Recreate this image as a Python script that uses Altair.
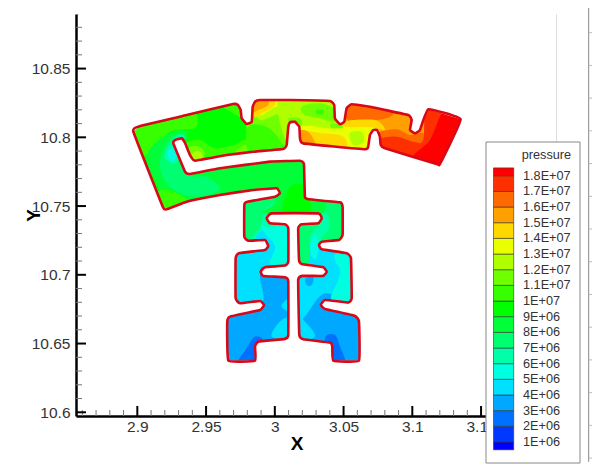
import altair as alt
import pandas as pd

X_DOMAIN = [2.8554, 3.2045]
Y_DOMAIN = [10.5973, 10.8897]

OUTLINE_X = [2.8971,2.9020,2.9359,2.9696,2.9732,2.9752,2.9759,2.9795,2.9832,2.9839,2.9856,2.9892,3.0110,3.0401,3.0432,3.0437,3.0474,3.0505,3.0522,3.0559,3.0692,3.0970,3.0995,3.0983,3.1019,3.1055,3.1116,3.1351,3.1201,3.1177,3.0801,3.0770,3.0764,3.0745,3.0716,3.0692,3.0679,3.0655,3.0207,3.0183,3.0178,3.0146,3.0110,3.0098,3.0086,3.0061,2.9843,2.9650,2.9419,2.9383,2.9347,2.9323,2.9274,2.9262,2.9347,2.9383,2.9601,2.9965,3.0183,3.0212,3.0219,3.0248,3.0474,3.0493,3.0493,3.0466,3.0341,3.0321,3.0341,3.0522,3.0554,3.0559,3.0534,3.0365,3.0335,3.0365,3.0583,3.0612,3.0612,3.0425,3.0418,3.0401,3.0207,3.0178,3.0170,3.0200,3.0352,3.0377,3.0352,3.0195,3.0176,3.0170,3.0195,3.0316,3.0341,3.0316,2.9977,2.9941,2.9965,3.0074,3.0098,3.0098,3.0074,2.9928,2.9897,2.9916,3.0074,3.0098,3.0098,3.0074,2.9880,2.9856,2.9856,2.9662,2.9654,2.9674,2.9892,2.9921,2.9892,2.9747,2.9715,2.9715,2.9739,2.9928,2.9952,2.9928,2.9807,2.9778,2.9778,2.9795,3.0001,3.0037,3.0013,2.9843,2.9601,2.9359,2.9214,2.9185]
OUTLINE_Y = [10.8041,10.8082,10.8162,10.8242,10.8235,10.8198,10.8138,10.8097,10.8113,10.8222,10.8259,10.8271,10.8271,10.8264,10.8235,10.8138,10.8095,10.8113,10.8211,10.8240,10.8222,10.8162,10.8126,10.8053,10.8029,10.8053,10.8204,10.8131,10.7806,10.7806,10.7920,10.7944,10.8004,10.8053,10.8053,10.8017,10.7932,10.7913,10.7956,10.7993,10.8077,10.8113,10.8109,10.8077,10.7944,10.7915,10.7895,10.7871,10.7830,10.7871,10.7959,10.7993,10.7980,10.7956,10.7750,10.7733,10.7775,10.7823,10.7830,10.7806,10.7566,10.7549,10.7527,10.7495,10.7290,10.7253,10.7241,10.7217,10.7186,10.7157,10.7120,10.6830,10.6798,10.6817,10.6781,10.6752,10.6701,10.6659,10.6376,10.6376,10.6478,10.6507,10.6531,10.6563,10.6963,10.6992,10.6992,10.7023,10.7055,10.7079,10.7108,10.7338,10.7368,10.7375,10.7411,10.7447,10.7447,10.7411,10.7375,10.7368,10.7338,10.7096,10.7067,10.7055,10.7023,10.6992,10.6982,10.6950,10.6563,10.6534,10.6514,10.6478,10.6376,10.6376,10.6659,10.6696,10.6744,10.6781,10.6810,10.6793,10.6830,10.7120,10.7157,10.7181,10.7210,10.7253,10.7248,10.7277,10.7508,10.7530,10.7568,10.7593,10.7629,10.7617,10.7581,10.7532,10.7477,10.7495]

# Pressure regions, painted from back to front: (pressure, xs, ys)
REGIONS = [
 (9.5e6,[2.885,3.03,3.03,2.885],[10.85,10.85,10.74,10.74]),
 (10.5e6,[2.8922,2.9359,2.9431,2.9237,2.9116,2.9019,2.8935],[10.8077,10.8223,10.8077,10.8041,10.7908,10.7859,10.7981]),
 (8.5e6,[2.9068,2.9189,2.9359,2.9395,3.0207,3.0231,3.0037,2.9601,2.9237,2.9141],[10.7859,10.8005,10.8041,10.7823,10.7847,10.7569,10.7641,10.7569,10.7520,10.7666]),
 (7.5e6,[2.9165,2.9213,2.9334,2.9359,2.9504,2.9601,2.9407,2.9237],[10.7787,10.7956,10.8017,10.7738,10.7714,10.7617,10.7569,10.7641]),
 (6.5e6,[2.9201,2.9274,2.9346,2.9310,2.9274,2.9213],[10.7884,10.8005,10.8005,10.7872,10.7811,10.7835]),
 (5.5e6,[2.9220,2.9257,2.9291,2.9250],[10.7884,10.7932,10.7872,10.7823]),
 (10.5e6,[2.9346,2.9456,2.9565,2.9698,2.9783,2.9867,2.9940,2.9601,2.9419],[10.7944,10.7981,10.7920,10.7944,10.7981,10.7932,10.7872,10.7835,10.7799]),
 (11.5e6,[2.9371,2.9451,2.9492,2.9419],[10.7920,10.7932,10.7872,10.7816]),
 (11.5e6,[2.9710,2.9783,2.9843,2.9795],[10.7884,10.7944,10.7896,10.7872]),
 (12.5e6,[2.9395,2.9443,2.9475,2.9419],[10.7872,10.7903,10.7859,10.7823]),
 (10.5e6,[2.9104,2.9213,2.9371,2.9189],[10.7569,10.7617,10.7532,10.7447]),
 (10.5e6,[2.9601,2.9771,2.9771,2.9674],[10.8247,10.8271,10.8150,10.8187]),
 # upper arc, middle
 (11.5e6,[2.9819,3.0255,3.0255,2.9843,2.9795],[10.8320,10.8320,10.7884,10.7884,10.8053]),
 (10.5e6,[2.9807,2.9940,3.0037,3.0073,2.9819],[10.8077,10.8077,10.7981,10.7884,10.7884]),
 (12.5e6,[2.9843,3.0013,3.0279,3.0279,3.0158,3.0037,2.9892],[10.8247,10.8296,10.8296,10.8126,10.8150,10.8174,10.8126]),
 (13.5e6,[2.9843,3.0013,3.0231,3.0182,3.0013,2.9892],[10.8271,10.8296,10.8283,10.8211,10.8223,10.8162]),
 (14.5e6,[2.9838,2.9964,3.0001,2.9904,2.9843],[10.8271,10.8283,10.8235,10.8174,10.8150]),
 (15.5e6,[2.9838,2.9940,2.9952,2.9880,2.9838],[10.8271,10.8283,10.8235,10.8199,10.8186]),
 (12.5e6,[3.0037,3.0449,3.0498,3.0716,3.0704,3.0158],[10.8320,10.8320,10.8102,10.8102,10.7884,10.7884]),
 (11.5e6,[3.0195,3.0328,3.0437,3.0437,3.0328,3.0219],[10.8223,10.8247,10.8199,10.8114,10.8138,10.8162]),
 (10.5e6,[3.0304,3.0352,3.0352,3.0304],[10.8199,10.8199,10.8170,10.8170]),
 (11.5e6,[3.0098,3.0183,3.0195,3.0134],[10.8138,10.8138,10.8090,10.8077]),
 (11.5e6,[3.0413,3.0510,3.0473,3.0413],[10.8102,10.8090,10.8053,10.8065]),
 (15.5e6,[3.0498,3.1007,3.1079,3.0788,3.0740,3.0510],[10.8271,10.8223,10.8017,10.8029,10.8065,10.8102]),
 (16.5e6,[3.0510,3.0837,3.0813,3.0534],[10.8259,10.8211,10.8138,10.8126]),
 (13.5e6,[3.0183,3.0401,3.0522,3.0522,3.0183],[10.8077,10.8065,10.8053,10.7920,10.7944]),
 (13.5e6,[3.0510,3.0716,3.0716,3.0510],[10.8102,10.8102,10.7896,10.7908]),
 (14.5e6,[3.0183,3.0352,3.0498,3.0498,3.0183],[10.8041,10.8029,10.8005,10.7913,10.7932]),
 (15.5e6,[3.0171,3.0243,3.0292,3.0171],[10.8041,10.8041,10.7944,10.7944]),
 (14.5e6,[3.0510,3.0728,3.0801,3.0704,3.0510],[10.8114,10.8126,10.8053,10.8073,10.8077]),
 (12.5e6,[3.0546,3.0631,3.0648,3.0570],[10.8029,10.8041,10.7968,10.7944]),
 # right end
 (16.5e6,[3.0745,3.0885,3.0982,3.1079,3.1079,3.0934,3.0752],[10.8029,10.8058,10.8017,10.8029,10.7932,10.7968,10.7956]),
 (17.5e6,[3.0752,3.0885,3.1007,3.1079,3.1103,3.1249,3.1031,3.0752],[10.7981,10.8005,10.7968,10.7981,10.8211,10.8174,10.7823,10.7896]),
 (18.5e6,[3.1237,3.1394,3.1225,3.1007,3.1128],[10.8199,10.8150,10.7762,10.7847,10.7981]),
 # lower lobes
 (3.5e6,[2.95,3.08,3.08,2.95],[10.73,10.73,10.62,10.62]),
 (6.5e6,[2.9735,3.0534,3.0534,3.0316,2.9735],[10.7569,10.7569,10.7205,10.7193,10.7205]),
 (6.5e6,[3.0171,3.0340,3.0340,3.0171],[10.7375,10.7375,10.7072,10.7072]),
 (6.5e6,[3.0183,3.0255,3.0352,3.0255],[10.7593,10.7569,10.7435,10.7447]),
 (4.5e6,[2.9662,2.9892,2.9892,2.9904,2.9662],[10.7181,10.7181,10.6987,10.6793,10.6781]),
 (4.5e6,[2.9880,3.0110,3.0110,2.9880],[10.7302,10.7302,10.7072,10.7072]),
 (4.5e6,[3.0171,3.0583,3.0583,3.0365,3.0219,3.0171],[10.7181,10.7181,10.6793,10.6866,10.6696,10.6684]),
 (5.5e6,[3.0449,3.0583,3.0583,3.0413,3.0461,3.0474,3.0437],[10.7157,10.7181,10.6793,10.6817,10.6963,10.7036,10.7108]),
 (3.5e6,[3.0224,3.0280,3.0268,3.0231],[10.6975,10.6982,10.6926,10.6926]),
 (4.5e6,[2.9977,3.0037,3.0110,3.0110],[10.6551,10.6660,10.6684,10.6539]),
 (4.5e6,[3.0171,3.0231,3.0292,3.0171],[10.6684,10.6648,10.6551,10.6527]),
 (4.5e6,[3.0050,3.0110,3.0110,3.0074],[10.6781,10.6830,10.6733,10.6745]),
 (2.5e6,[2.9735,2.9795,2.9856,2.9916,2.9880],[10.6357,10.6466,10.6551,10.6515,10.6357]),
 (2.5e6,[3.0365,3.0437,3.0474,3.0510,3.0389],[10.6539,10.6563,10.6478,10.6357,10.6357]),
 (5.5e6,[2.9904,3.0110,3.0110,2.9965,3.0001,2.9928],[10.7375,10.7399,10.7072,10.7072,10.7205,10.7302]),
 (6.5e6,[2.9916,3.0098,3.0110,2.9928],[10.7443,10.7443,10.7375,10.7350]),
 (7.5e6,[2.9771,3.0050,2.9928,2.9892,2.9771],[10.7544,10.7569,10.7472,10.7350,10.7241]),
 (7.5e6,[3.0243,3.0498,3.0498,3.0340,3.0401,3.0365],[10.7569,10.7544,10.7254,10.7254,10.7350,10.7472]),
 (8.5e6,[3.0025,3.0280,3.0352,2.9928,3.0001],[10.7641,10.7641,10.7447,10.7447,10.7520]),
 (9.5e6,[3.0110,3.0219,3.0256,3.0062],[10.7641,10.7641,10.7452,10.7452]),
 (7.5e6,[3.0171,3.0340,3.0256,3.0243,3.0171],[10.7375,10.7399,10.7278,10.7072,10.7072]),
 (5.5e6,[3.0256,3.0292,3.0316,3.0304,3.0268],[10.7205,10.7290,10.7229,10.7120,10.7133]),
]

LEVELS = [1e6*i for i in range(1, 19)]
LEVEL_LABELS = ["1E+06","2E+06","3E+06","4E+06","5E+06","6E+06","7E+06","8E+06","9E+06","1E+07",
                "1.1E+07","1.2E+07","1.3E+07","1.4E+07","1.5E+07","1.6E+07","1.7E+07","1.8E+07"]
BAND_LOW = [0.5e6] + LEVELS
BAND_HIGH = LEVELS + [18.5e6]
COLORS = ["#0000ff","#0038ff","#0070ff","#00a8ff","#00e0ff","#00ffe0","#00ffa8","#00ff70","#00ff38","#00ff00",
          "#38ff00","#70ff00","#b0ff00","#eaff00","#ffd800","#ffa000","#ff6a00","#ff3000","#ff0000"]

X_MAJOR = [2.9, 2.95, 3.0, 3.05, 3.1, 3.15]
X_MINOR = [2.86,2.87,2.88,2.89,2.91,2.92,2.93,2.94,2.96,2.97,2.98,2.99,3.01,3.02,3.03,3.04,3.06,3.07,3.08,3.09,3.11,3.12,3.13,3.14]
Y_MAJOR = [10.6, 10.65, 10.7, 10.75, 10.8, 10.85]
Y_MINOR = [10.61,10.62,10.63,10.64,10.66,10.67,10.68,10.69,10.71,10.72,10.73,10.74,10.76,10.77,10.78,10.79,10.81,10.82,10.83,10.84,10.86,10.87,10.88]
EDGE_TICKS = [10.8761,10.8523,10.8285,10.8047,10.7809,10.7571,10.7333,10.7095,10.6857,10.6619,10.6381,10.6143,10.5905,10.5667]

FONT = "Liberation Sans"
TEXT = "#333333"
H = 402
W = 480
EDGE = 512.7
xscale = alt.Scale(domain=X_DOMAIN, nice=False, zero=False)
yscale = alt.Scale(domain=Y_DOMAIN, nice=False, zero=False)
xe = alt.X("x:Q", scale=xscale, axis=None)
ye = alt.Y("y:Q", scale=yscale, axis=None)
color_scale = alt.Scale(type="threshold", domain=LEVELS, range=COLORS)

rows = []
for r, (p, xs, ys) in enumerate(REGIONS):
    for i, (a, b) in enumerate(zip(xs, ys)):
        rows.append({"region": r, "i": i, "x": a, "y": b, "pressure": p})
regions_df = pd.DataFrame(rows)

outline_df = pd.DataFrame({"i": range(len(OUTLINE_X)), "x": OUTLINE_X, "y": OUTLINE_Y})

x0, x1 = X_DOMAIN[0] + 0.002, X_DOMAIN[1]
y0, y1 = Y_DOMAIN[0] + 0.002, Y_DOMAIN[1]
mx = [x0, x1, x1, x0, x0, OUTLINE_X[0]] + OUTLINE_X[::-1] + [x0]
my = [y1, y1, y0, y0, y1, OUTLINE_Y[0]] + OUTLINE_Y[::-1] + [y1]
mask_df = pd.DataFrame({"i": range(len(mx)), "x": mx, "y": my})

region_layer = alt.Chart(regions_df).mark_line(
    interpolate="cardinal-closed", strokeWidth=0, clip=True
).encode(
    x=alt.X("x:Q", scale=xscale, axis=alt.Axis(
        values=X_MAJOR, format="~g", ticks=False, grid=False, domainColor="black", domainWidth=2.5,
        labelFont=FONT, labelFontSize=15.5, labelColor=TEXT, labelPadding=3,
        title="X", titleFont=FONT, titleFontSize=19, titleFontWeight="bold", titleColor="black",
        titleX=220.5, titleY=27, titleAlign="center", titleBaseline="middle")),
    y=alt.Y("y:Q", scale=yscale, axis=alt.Axis(
        values=Y_MAJOR, format="~g", ticks=False, grid=False, domainColor="black", domainWidth=2.5,
        labelFont=FONT, labelFontSize=15.5, labelColor=TEXT, labelPadding=6,
        title="Y", titleFont=FONT, titleFontSize=19, titleFontWeight="bold", titleColor="black",
        titleX=-43, titleY=201, titleAngle=270, titleAlign="center", titleBaseline="middle")),
    order="i:Q", detail="region:N",
    fill=alt.Fill("pressure:Q", scale=color_scale, legend=None),
)

mask = alt.Chart(mask_df).mark_line(interpolate="linear-closed", fill="white", strokeWidth=0).encode(x=xe, y=ye, order="i:Q")
outline = alt.Chart(outline_df).mark_line(
    interpolate="cardinal-closed", tension=0.7, stroke="#d80818", strokeWidth=2.6, strokeJoin="round"
).encode(x=xe, y=ye, order="i:Q")

def xticks(values, length, color, width):
    return alt.Chart(pd.DataFrame({"x": values})).mark_rule(color=color, strokeWidth=width).encode(
        x=xe, y=alt.value(H), y2=alt.value(H - length))
def yticks(values, length, color, width):
    return alt.Chart(pd.DataFrame({"y": values})).mark_rule(color=color, strokeWidth=width).encode(
        y=ye, x=alt.value(0), x2=alt.value(length))

edge_line = alt.Chart(pd.DataFrame({"y": [Y_DOMAIN[1] + 0.006], "y2": [10.5640]})).mark_rule(color="#888888", strokeWidth=1).encode(
    y=ye, y2="y2:Q", x=alt.value(EDGE))
edge_ticks = alt.Chart(pd.DataFrame({"y": EDGE_TICKS})).mark_rule(color="#bbbbbb", strokeWidth=1).encode(
    y=ye, x=alt.value(EDGE), x2=alt.value(EDGE + 4))

# Pressure key
key_y = alt.Scale(domain=[0.5e6, 18.5e6], range=[435.8, 153.9], nice=False, zero=False)
key_df = pd.DataFrame({"low": BAND_LOW, "high": BAND_HIGH,
                       "mid": [(a + b) / 2 for a, b in zip(BAND_LOW, BAND_HIGH)]})
labels_df = pd.DataFrame({"level": LEVELS, "label": LEVEL_LABELS})

key_frame = alt.Chart(pd.DataFrame({"k": [0]})).mark_rect(
    fill="white", stroke="#888888", strokeWidth=1
).encode(x=alt.value(410), x2=alt.value(504), y=alt.value(128), y2=alt.value(449))
key_bands = alt.Chart(key_df).mark_rect(stroke="#333333", strokeWidth=0.6).encode(
    x=alt.value(417.5), x2=alt.value(437.7),
    y=alt.Y("low:Q", scale=key_y, axis=None), y2="high:Q",
    fill=alt.Fill("mid:Q", scale=color_scale, legend=None),
)
key_labels = alt.Chart(labels_df).mark_text(
    align="left", baseline="middle", font=FONT, fontSize=12.7, color=TEXT
).encode(x=alt.value(447), y=alt.Y("level:Q", scale=key_y, axis=None), text="label:N")
key_title = alt.Chart(pd.DataFrame({"t": ["pressure"]})).mark_text(
    align="left", baseline="middle", font=FONT, fontSize=12.7, color=TEXT
).encode(x=alt.value(445.7), y=alt.value(141), text="t:N")

chart = alt.layer(
    region_layer, mask, outline,
    xticks(X_MINOR, 6, "#777777", 1), xticks(X_MAJOR, 10, "black", 2),
    yticks(Y_MINOR, 6, "#777777", 1), yticks(Y_MAJOR, 10, "black", 2),
    edge_line, edge_ticks,
    key_frame, key_bands, key_labels, key_title,
).resolve_scale(x="independent", y="independent").properties(
    width=W, height=H, autosize=alt.AutoSizeParams(type="none"),
    padding={"left": 68, "top": 6, "right": 36, "bottom": 48},
).configure_view(stroke=None).configure(background="white")

chart.save("out.html", embed_options={"renderer": "svg", "actions": False})
